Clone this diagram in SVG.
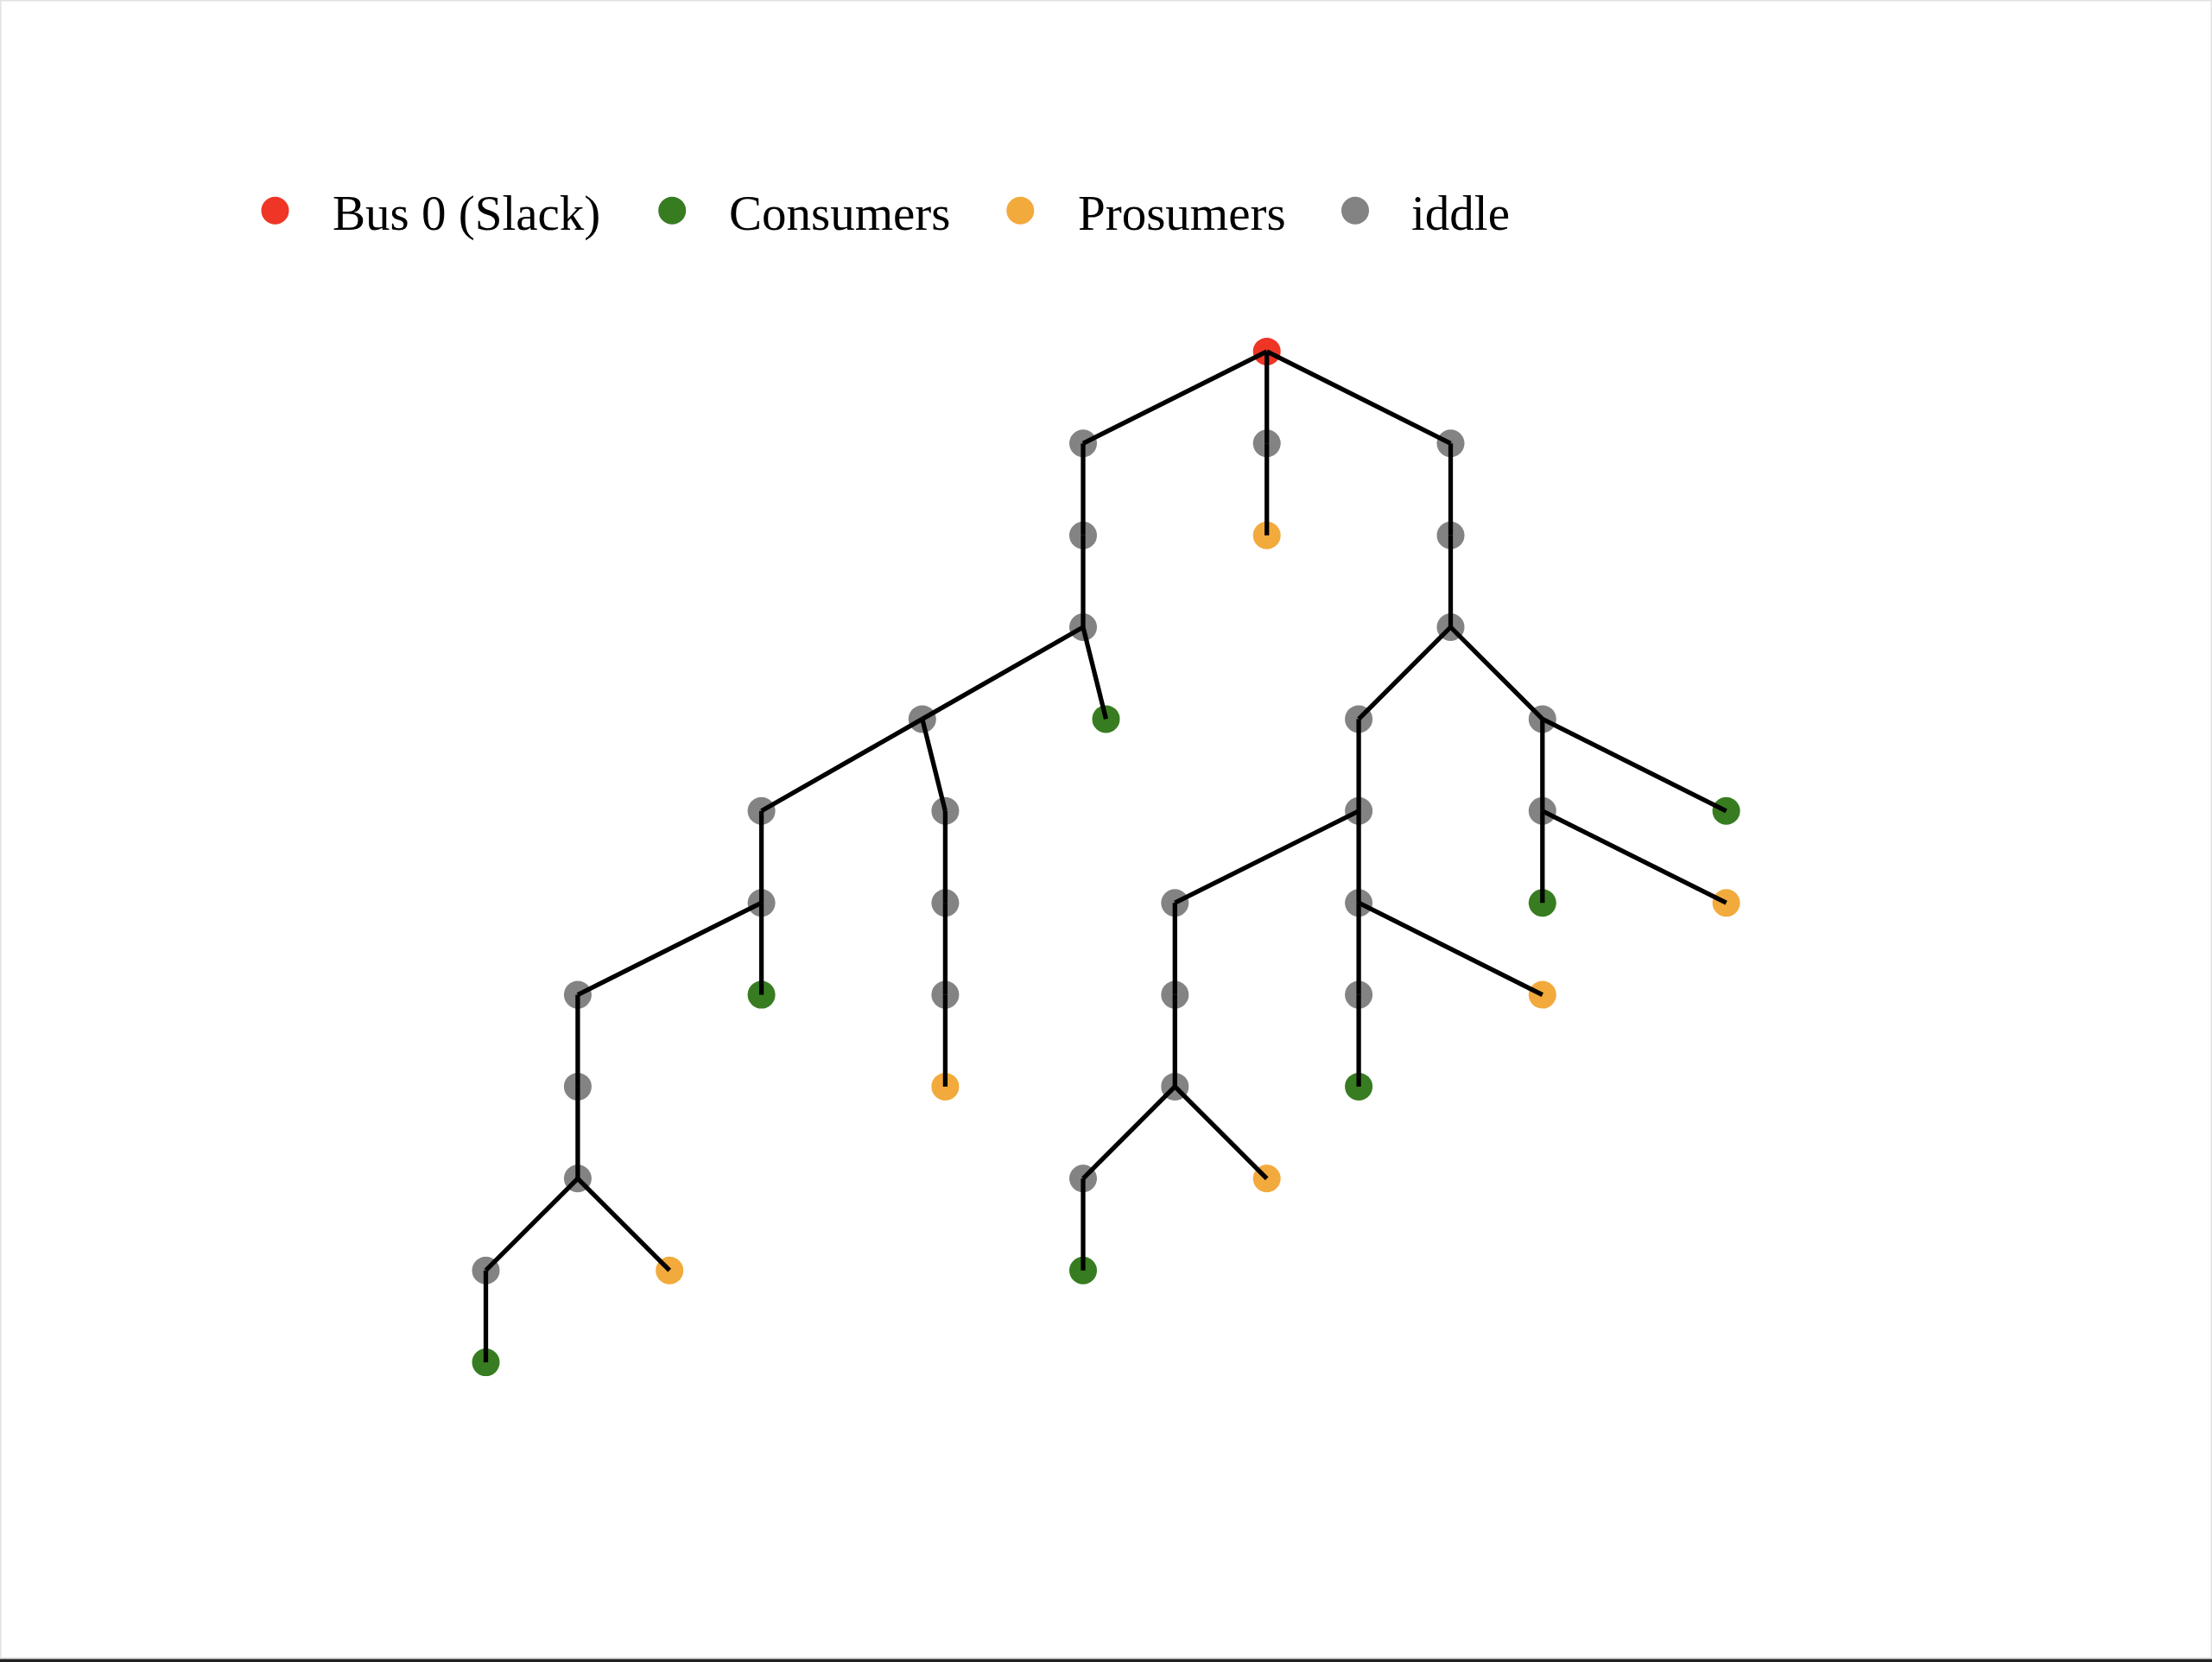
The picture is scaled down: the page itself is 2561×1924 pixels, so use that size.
<svg xmlns="http://www.w3.org/2000/svg" width="2561" height="1924" viewBox="0 0 2561 1924">
<style>
.bg{fill:#ffffff}
.frame{fill:none;stroke:#e2e2e2;stroke-width:1.5}
.slack{fill:#ee3526}
.cons{fill:#387c21}
.pros{fill:#f2aa3c}
.idle{fill:#838383}
.edge{stroke:#000000;stroke-width:5.3;stroke-linecap:butt;fill:none}
.lbl{font-family:"Liberation Serif","Times New Roman",serif;font-size:57px;fill:#000000}
</style>
<rect class="bg" x="0" y="0" width="2561" height="1924"/>
<rect class="frame" x="0.75" y="0.75" width="2559.5" height="1918.5"/>
<rect x="0" y="1920.5" width="2561" height="3.5" fill="#222222"/>
<g id="legend">
<circle class="slack" cx="318.5" cy="243.8" r="16"/>
<text class="lbl" x="385" y="266">Bus 0 (Slack)</text>
<circle class="cons" cx="778.2" cy="243.8" r="16"/>
<text class="lbl" x="844" y="266">Consumers</text>
<circle class="pros" cx="1181.3" cy="243.8" r="16"/>
<text class="lbl" x="1248" y="266">Prosumers</text>
<circle class="idle" cx="1569" cy="243.8" r="16"/>
<text class="lbl" x="1634" y="266">iddle</text>
</g>
<g id="nodes">
<g id="n0"><circle class="slack" cx="1466.7" cy="406.9" r="16"/></g>
<g id="n1"><circle class="idle" cx="1254.0" cy="513.3" r="16"/></g>
<g id="n2"><circle class="idle" cx="1254.0" cy="619.7" r="16"/></g>
<g id="n3"><circle class="idle" cx="1254.0" cy="726.0" r="16"/></g>
<g id="n4"><circle class="idle" cx="1466.7" cy="513.3" r="16"/></g>
<g id="n5"><circle class="pros" cx="1466.7" cy="619.7" r="16"/></g>
<g id="n6"><circle class="idle" cx="1679.5" cy="513.3" r="16"/></g>
<g id="n7"><circle class="idle" cx="1679.5" cy="619.7" r="16"/></g>
<g id="n8"><circle class="idle" cx="1679.5" cy="726.0" r="16"/></g>
<g id="n9"><circle class="idle" cx="1067.8" cy="832.4" r="16"/></g>
<g id="n10"><circle class="cons" cx="1280.5" cy="832.4" r="16"/></g>
<g id="n11"><circle class="idle" cx="881.6" cy="938.8" r="16"/></g>
<g id="n12"><circle class="idle" cx="1094.4" cy="938.8" r="16"/></g>
<g id="n13"><circle class="idle" cx="1094.4" cy="1045.2" r="16"/></g>
<g id="n14"><circle class="idle" cx="1094.4" cy="1151.6" r="16"/></g>
<g id="n15"><circle class="pros" cx="1094.4" cy="1257.9" r="16"/></g>
<g id="n16"><circle class="idle" cx="881.6" cy="1045.2" r="16"/></g>
<g id="n17"><circle class="cons" cx="881.6" cy="1151.6" r="16"/></g>
<g id="n18"><circle class="idle" cx="668.9" cy="1151.6" r="16"/></g>
<g id="n19"><circle class="idle" cx="668.9" cy="1257.9" r="16"/></g>
<g id="n20"><circle class="idle" cx="668.9" cy="1364.3" r="16"/></g>
<g id="n21"><circle class="idle" cx="562.5" cy="1470.7" r="16"/></g>
<g id="n22"><circle class="cons" cx="562.5" cy="1577.1" r="16"/></g>
<g id="n23"><circle class="pros" cx="775.2" cy="1470.7" r="16"/></g>
<g id="n24"><circle class="idle" cx="1573.1" cy="832.4" r="16"/></g>
<g id="n25"><circle class="idle" cx="1785.8" cy="832.4" r="16"/></g>
<g id="n26"><circle class="idle" cx="1573.1" cy="938.8" r="16"/></g>
<g id="n27"><circle class="idle" cx="1573.1" cy="1045.2" r="16"/></g>
<g id="n28"><circle class="idle" cx="1573.1" cy="1151.6" r="16"/></g>
<g id="n29"><circle class="cons" cx="1573.1" cy="1257.9" r="16"/></g>
<g id="n30"><circle class="idle" cx="1360.3" cy="1045.2" r="16"/></g>
<g id="n31"><circle class="idle" cx="1360.3" cy="1151.6" r="16"/></g>
<g id="n32"><circle class="idle" cx="1360.3" cy="1257.9" r="16"/></g>
<g id="n33"><circle class="idle" cx="1254.0" cy="1364.3" r="16"/></g>
<g id="n34"><circle class="cons" cx="1254.0" cy="1470.7" r="16"/></g>
<g id="n35"><circle class="pros" cx="1466.7" cy="1364.3" r="16"/></g>
<g id="n36"><circle class="pros" cx="1785.8" cy="1151.6" r="16"/></g>
<g id="n37"><circle class="idle" cx="1785.8" cy="938.8" r="16"/></g>
<g id="n38"><circle class="cons" cx="1785.8" cy="1045.2" r="16"/></g>
<g id="n39"><circle class="cons" cx="1998.6" cy="938.8" r="16"/></g>
<g id="n40"><circle class="pros" cx="1998.6" cy="1045.2" r="16"/></g>
</g>
<g id="edges" class="edge">
<line x1="1466.7" y1="406.9" x2="1254.0" y2="513.3"/>
<line x1="1466.7" y1="406.9" x2="1466.7" y2="513.3"/>
<line x1="1466.7" y1="513.3" x2="1466.7" y2="619.7"/>
<line x1="1466.7" y1="406.9" x2="1679.5" y2="513.3"/>
<line x1="1254.0" y1="513.3" x2="1254.0" y2="619.7"/>
<line x1="1254.0" y1="619.7" x2="1254.0" y2="726.0"/>
<line x1="1254.0" y1="726.0" x2="1067.8" y2="832.4"/>
<line x1="1254.0" y1="726.0" x2="1280.5" y2="832.4"/>
<line x1="1067.8" y1="832.4" x2="881.6" y2="938.8"/>
<line x1="1067.8" y1="832.4" x2="1094.4" y2="938.8"/>
<line x1="1094.4" y1="938.8" x2="1094.4" y2="1045.2"/>
<line x1="1094.4" y1="1045.2" x2="1094.4" y2="1151.6"/>
<line x1="1094.4" y1="1151.6" x2="1094.4" y2="1257.9"/>
<line x1="881.6" y1="938.8" x2="881.6" y2="1045.2"/>
<line x1="881.6" y1="1045.2" x2="881.6" y2="1151.6"/>
<line x1="881.6" y1="1045.2" x2="668.9" y2="1151.6"/>
<line x1="668.9" y1="1151.6" x2="668.9" y2="1257.9"/>
<line x1="668.9" y1="1257.9" x2="668.9" y2="1364.3"/>
<line x1="668.9" y1="1364.3" x2="562.5" y2="1470.7"/>
<line x1="562.5" y1="1470.7" x2="562.5" y2="1577.1"/>
<line x1="668.9" y1="1364.3" x2="775.2" y2="1470.7"/>
<line x1="1679.5" y1="513.3" x2="1679.5" y2="619.7"/>
<line x1="1679.5" y1="619.7" x2="1679.5" y2="726.0"/>
<line x1="1679.5" y1="726.0" x2="1573.1" y2="832.4"/>
<line x1="1679.5" y1="726.0" x2="1785.8" y2="832.4"/>
<line x1="1573.1" y1="832.4" x2="1573.1" y2="938.8"/>
<line x1="1573.1" y1="938.8" x2="1573.1" y2="1045.2"/>
<line x1="1573.1" y1="1045.2" x2="1573.1" y2="1151.6"/>
<line x1="1573.1" y1="1151.6" x2="1573.1" y2="1257.9"/>
<line x1="1573.1" y1="938.8" x2="1360.3" y2="1045.2"/>
<line x1="1360.3" y1="1045.2" x2="1360.3" y2="1151.6"/>
<line x1="1360.3" y1="1151.6" x2="1360.3" y2="1257.9"/>
<line x1="1360.3" y1="1257.9" x2="1254.0" y2="1364.3"/>
<line x1="1254.0" y1="1364.3" x2="1254.0" y2="1470.7"/>
<line x1="1360.3" y1="1257.9" x2="1466.7" y2="1364.3"/>
<line x1="1573.1" y1="1045.2" x2="1785.8" y2="1151.6"/>
<line x1="1785.8" y1="832.4" x2="1785.8" y2="938.8"/>
<line x1="1785.8" y1="938.8" x2="1785.8" y2="1045.2"/>
<line x1="1785.8" y1="832.4" x2="1998.6" y2="938.8"/>
<line x1="1785.8" y1="938.8" x2="1998.6" y2="1045.2"/>
</g>
</svg>
